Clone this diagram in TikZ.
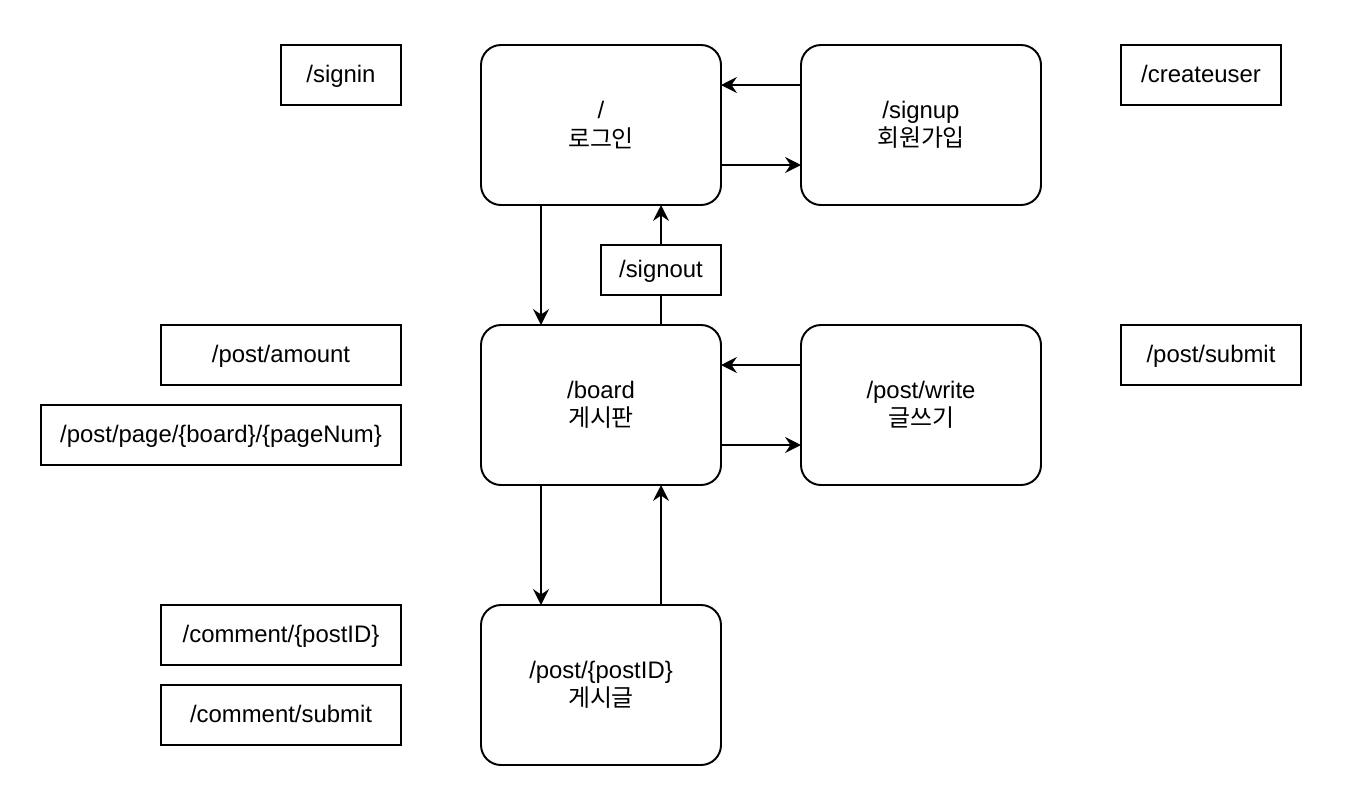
\documentclass[tikz,border=0pt]{standalone}
\usepackage{fontspec}
\setmainfont{Liberation Sans}
\newfontfamily\kr{Noto Sans CJK KR}
\usetikzlibrary{positioning,arrows.meta}

\tikzset{
    screen/.style={draw, line width=1.1pt, rounded corners=0.4cm, minimum width=4.8cm, minimum height=3.2cm, align=center, outer sep=0pt},
    route/.style={draw, line width=1.1pt, minimum height=1.2cm, inner sep=0pt, outer sep=0pt, text depth=0.25ex},
    link/.style={line width=1.1pt, -{Stealth[length=9pt,width=9pt,inset=3pt]}},
}

\begin{document}
\begin{tikzpicture}[node distance=2.4cm and 1.6cm, font=\fontsize{13.6}{16}\selectfont]
    \useasboundingbox (0,0) rectangle (27.44,-16.04);

    % pages
    \node [screen] (login) at (12.02,-2.5) {/\\{\kr 로그인}};
    \node [screen, right=of login] (signup) {/signup\\{\kr 회원가입}};
    \node [screen, below=of login] (board) {/board\\{\kr 게시판}};
    \node [screen, right=of board] (write) {/post/write\\{\kr 글쓰기}};
    \node [screen, below=of board] (post) {/post/\{postID\}\\{\kr 게시글}};

    % routes
    \node [route, minimum width=2.4cm, left=of login, yshift=1cm] (signin) {/signin};
    \node [route, minimum width=3.2cm, right=of signup, yshift=1cm] (createuser) {/createuser};
    \node [route, minimum width=4.8cm, left=of board, yshift=1cm] (amount) {/post/amount};
    \node [route, minimum width=7.2cm, left=of board, yshift=-0.6cm] (pagenum) {/post/page/\{board\}/\{pageNum\}};
    \node [route, minimum width=3.6cm, right=of write, yshift=1cm] (submit) {/post/submit};
    \node [route, minimum width=4.8cm, left=of post, yshift=1cm] (commentid) {/comment/\{postID\}};
    \node [route, minimum width=4.8cm, left=of post, yshift=-0.6cm] (commentsubmit) {/comment/submit};

    \draw [link] ([yshift=0.8cm]signup.west) -- ([yshift=0.8cm]login.east);
    \draw [link] ([yshift=-0.8cm]login.east) -- ([yshift=-0.8cm]signup.west);
    \draw [link] ([xshift=-1.2cm]login.south) -- ([xshift=-1.2cm]board.north);
    \draw [link] ([xshift=1.2cm]board.north) -- node [route, fill=white, minimum width=2.4cm, minimum height=1cm, pos=0.46] (signout) {/signout} ([xshift=1.2cm]login.south);
    \draw [link] ([yshift=0.8cm]write.west) -- ([yshift=0.8cm]board.east);
    \draw [link] ([yshift=-0.8cm]board.east) -- ([yshift=-0.8cm]write.west);
    \draw [link] ([xshift=-1.2cm]board.south) -- ([xshift=-1.2cm]post.north);
    \draw [link] ([xshift=1.2cm]post.north) -- ([xshift=1.2cm]board.south);
\end{tikzpicture}
\end{document}
